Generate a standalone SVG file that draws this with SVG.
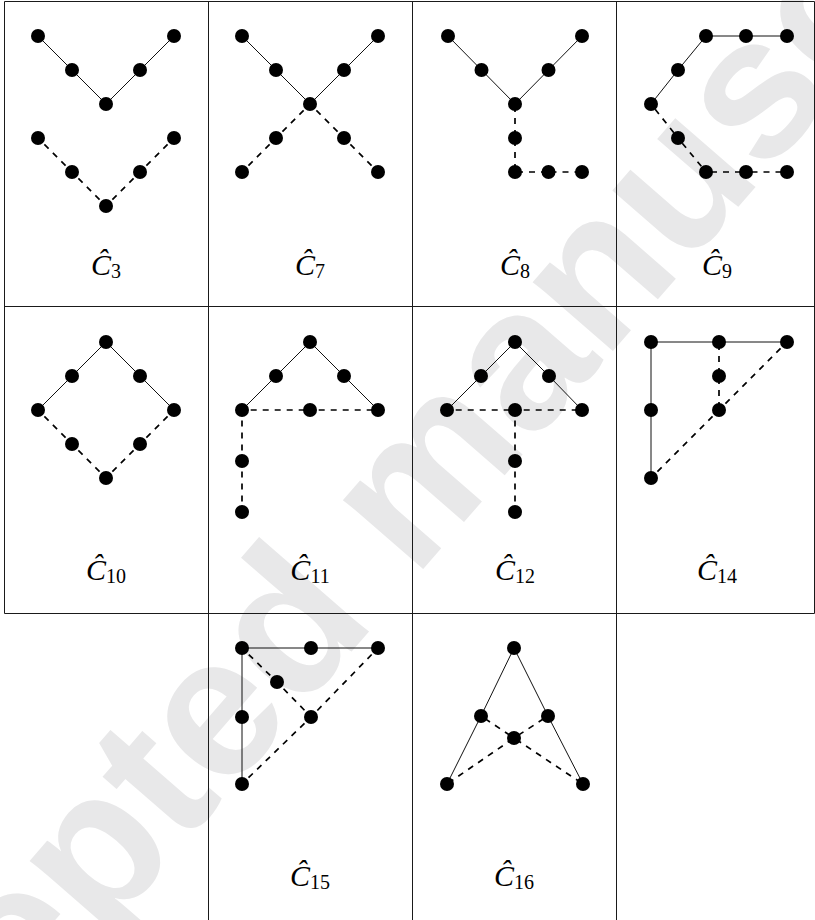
<svg xmlns="http://www.w3.org/2000/svg" width="815" height="920" viewBox="0 0 815 920">
<style>
.grid{stroke:#1a1a1a;stroke-width:1;fill:none}
.solid{stroke:#111;stroke-width:1;fill:none}
.dashed{stroke:#000;stroke-width:1.7;stroke-dasharray:6 6;fill:none}
.node circle{fill:#000}
.lbl{font-family:"Liberation Serif","DejaVu Serif",serif;font-style:italic;font-size:30px;fill:#000;text-anchor:middle}
.sub{font-style:normal;font-size:20px}
.wm{font-family:"Liberation Sans",Arial,sans-serif;font-weight:bold;font-size:200px;fill:#e8e8e9}
</style>
<rect width="815" height="920" fill="#fff"/>
<text class="wm" transform="translate(-213,1301) rotate(-49)">Accepted manuscript</text>
<g id="grid">
<line class="grid" x1="4.5" y1="1.5" x2="814.5" y2="1.5"/>
<line class="grid" x1="4.5" y1="306.5" x2="814.5" y2="306.5"/>
<line class="grid" x1="4.5" y1="613.5" x2="814.5" y2="613.5"/>
<line class="grid" x1="4.5" y1="1.5" x2="4.5" y2="613.5"/>
<line class="grid" x1="814.5" y1="1.5" x2="814.5" y2="613.5"/>
<line class="grid" x1="208.5" y1="1.5" x2="208.5" y2="920"/>
<line class="grid" x1="412.5" y1="1.5" x2="412.5" y2="920"/>
<line class="grid" x1="616.5" y1="1.5" x2="616.5" y2="920"/>
</g>
<g id="connectors">
<g id="e-C3">
<polyline class="solid" points="38,36 72,70 106,104 140,70 174,36"/>
<line class="dashed" stroke-dashoffset="3" x1="38" y1="138" x2="72" y2="172"/>
<line class="dashed" stroke-dashoffset="3" x1="72" y1="172" x2="106" y2="206"/>
<line class="dashed" stroke-dashoffset="3" x1="106" y1="206" x2="140" y2="172"/>
<line class="dashed" stroke-dashoffset="3" x1="140" y1="172" x2="174" y2="138"/>
</g>
<g id="e-C7">
<polyline class="solid" points="242,36 276,70 310,104 344,70 378,36"/>
<line class="dashed" stroke-dashoffset="3" x1="310" y1="104" x2="276" y2="138"/>
<line class="dashed" stroke-dashoffset="3" x1="276" y1="138" x2="242" y2="172"/>
<line class="dashed" stroke-dashoffset="3" x1="310" y1="104" x2="344" y2="138"/>
<line class="dashed" stroke-dashoffset="3" x1="344" y1="138" x2="378" y2="172"/>
</g>
<g id="e-C8">
<polyline class="solid" points="448,36 481.5,70 515,104 548.5,70 582,36"/>
<line class="dashed" stroke-dashoffset="10" x1="515" y1="104" x2="515" y2="138"/>
<line class="dashed" stroke-dashoffset="10" x1="515" y1="138" x2="515" y2="172"/>
<line class="dashed" stroke-dashoffset="10" x1="515" y1="172" x2="548.5" y2="172"/>
<line class="dashed" stroke-dashoffset="10" x1="548.5" y1="172" x2="582" y2="172"/>
</g>
<g id="e-C9">
<polyline class="solid" points="651,104 678,70 706,36 746,36 787,36"/>
<line class="dashed" stroke-dashoffset="5.3" x1="651" y1="104" x2="678" y2="138"/>
<line class="dashed" stroke-dashoffset="5.3" x1="678" y1="138" x2="706" y2="172"/>
<line class="dashed" stroke-dashoffset="7" x1="706" y1="172" x2="746" y2="172"/>
<line class="dashed" stroke-dashoffset="6.5" x1="746" y1="172" x2="787" y2="172"/>
</g>
<g id="e-C10">
<polyline class="solid" points="38,410 72,376 106,342 140,376 174,410"/>
<line class="dashed" stroke-dashoffset="3" x1="38" y1="410" x2="72" y2="444"/>
<line class="dashed" stroke-dashoffset="3" x1="72" y1="444" x2="106" y2="478"/>
<line class="dashed" stroke-dashoffset="3" x1="106" y1="478" x2="140" y2="444"/>
<line class="dashed" stroke-dashoffset="3" x1="140" y1="444" x2="174" y2="410"/>
</g>
<g id="e-C11">
<polyline class="solid" points="242,410 276,376 310,342 344,376 378,410"/>
<line class="dashed" stroke-dashoffset="3.3" x1="242" y1="410" x2="310" y2="410"/>
<line class="dashed" stroke-dashoffset="3.3" x1="310" y1="410" x2="378" y2="410"/>
<line class="dashed" stroke-dashoffset="1.5" x1="242" y1="410" x2="242" y2="461"/>
<line class="dashed" stroke-dashoffset="1.5" x1="242" y1="461" x2="242" y2="512"/>
</g>
<g id="e-C12">
<polyline class="solid" points="447,410 481,376 515,342 549,376 582,410"/>
<line class="dashed" stroke-dashoffset="3.3" x1="447" y1="410" x2="515" y2="410"/>
<line class="dashed" stroke-dashoffset="3.3" x1="515" y1="410" x2="582" y2="410"/>
<line class="dashed" stroke-dashoffset="1.5" x1="515" y1="410" x2="515" y2="461"/>
<line class="dashed" stroke-dashoffset="1.5" x1="515" y1="461" x2="515" y2="512"/>
</g>
<g id="e-C14">
<polyline class="solid" points="787,342 719,342 651,342 651,410 651,478"/>
<line class="dashed" stroke-dashoffset="10" x1="719" y1="342" x2="719" y2="376"/>
<line class="dashed" stroke-dashoffset="10" x1="719" y1="376" x2="719" y2="410"/>
<line class="dashed" stroke-dashoffset="2.9" x1="787" y1="342" x2="719" y2="410"/>
<line class="dashed" stroke-dashoffset="2.9" x1="719" y1="410" x2="651" y2="478"/>
</g>
<g id="e-C15">
<polyline class="solid" points="378,648 311,648 242,648 242,717 242,784"/>
<line class="dashed" stroke-dashoffset="2.6" x1="242" y1="648" x2="277" y2="682"/>
<line class="dashed" stroke-dashoffset="2.6" x1="277" y1="682" x2="311" y2="717"/>
<line class="dashed" stroke-dashoffset="2.9" x1="378" y1="648" x2="311" y2="717"/>
<line class="dashed" stroke-dashoffset="2.9" x1="311" y1="717" x2="242" y2="784"/>
</g>
<g id="e-C16">
<polyline class="solid" points="447,784 481,716 514,648 548,716 583,784"/>
<line class="dashed" stroke-dashoffset="7.2" x1="481" y1="716" x2="514" y2="738"/>
<line class="dashed" stroke-dashoffset="9.5" x1="514" y1="738" x2="583" y2="784"/>
<line class="dashed" stroke-dashoffset="6.8" x1="548" y1="716" x2="514" y2="738"/>
<line class="dashed" stroke-dashoffset="10.4" x1="514" y1="738" x2="447" y2="784"/>
</g>
</g>
<g id="C3">
<g class="node" id="C3-1"><circle cx="38" cy="36" r="7"/></g>
<g class="node" id="C3-2"><circle cx="72" cy="70" r="7"/></g>
<g class="node" id="C3-3"><circle cx="106" cy="104" r="7"/></g>
<g class="node" id="C3-4"><circle cx="140" cy="70" r="7"/></g>
<g class="node" id="C3-5"><circle cx="174" cy="36" r="7"/></g>
<g class="node" id="C3-6"><circle cx="38" cy="138" r="7"/></g>
<g class="node" id="C3-7"><circle cx="72" cy="172" r="7"/></g>
<g class="node" id="C3-8"><circle cx="106" cy="206" r="7"/></g>
<g class="node" id="C3-9"><circle cx="140" cy="172" r="7"/></g>
<g class="node" id="C3-10"><circle cx="174" cy="138" r="7"/></g>
<text class="lbl" x="106" y="275">Ĉ<tspan class="sub" dy="3">3</tspan></text>
</g>
<g id="C7">
<g class="node" id="C7-1"><circle cx="242" cy="36" r="7"/></g>
<g class="node" id="C7-2"><circle cx="276" cy="70" r="7"/></g>
<g class="node" id="C7-3"><circle cx="310" cy="104" r="7"/></g>
<g class="node" id="C7-4"><circle cx="344" cy="70" r="7"/></g>
<g class="node" id="C7-5"><circle cx="378" cy="36" r="7"/></g>
<g class="node" id="C7-6"><circle cx="276" cy="138" r="7"/></g>
<g class="node" id="C7-7"><circle cx="242" cy="172" r="7"/></g>
<g class="node" id="C7-8"><circle cx="344" cy="138" r="7"/></g>
<g class="node" id="C7-9"><circle cx="378" cy="172" r="7"/></g>
<text class="lbl" x="310" y="275">Ĉ<tspan class="sub" dy="3">7</tspan></text>
</g>
<g id="C8">
<g class="node" id="C8-1"><circle cx="448" cy="36" r="7"/></g>
<g class="node" id="C8-2"><circle cx="481.5" cy="70" r="7"/></g>
<g class="node" id="C8-3"><circle cx="515" cy="104" r="7"/></g>
<g class="node" id="C8-4"><circle cx="548.5" cy="70" r="7"/></g>
<g class="node" id="C8-5"><circle cx="582" cy="36" r="7"/></g>
<g class="node" id="C8-6"><circle cx="515" cy="138" r="7"/></g>
<g class="node" id="C8-7"><circle cx="515" cy="172" r="7"/></g>
<g class="node" id="C8-8"><circle cx="548.5" cy="172" r="7"/></g>
<g class="node" id="C8-9"><circle cx="582" cy="172" r="7"/></g>
<text class="lbl" x="515" y="275">Ĉ<tspan class="sub" dy="3">8</tspan></text>
</g>
<g id="C9">
<g class="node" id="C9-1"><circle cx="651" cy="104" r="7"/></g>
<g class="node" id="C9-2"><circle cx="678" cy="70" r="7"/></g>
<g class="node" id="C9-3"><circle cx="706" cy="36" r="7"/></g>
<g class="node" id="C9-4"><circle cx="746" cy="36" r="7"/></g>
<g class="node" id="C9-5"><circle cx="787" cy="36" r="7"/></g>
<g class="node" id="C9-6"><circle cx="678" cy="138" r="7"/></g>
<g class="node" id="C9-7"><circle cx="706" cy="172" r="7"/></g>
<g class="node" id="C9-8"><circle cx="746" cy="172" r="7"/></g>
<g class="node" id="C9-9"><circle cx="787" cy="172" r="7"/></g>
<text class="lbl" x="717" y="275">Ĉ<tspan class="sub" dy="3">9</tspan></text>
</g>
<g id="C10">
<g class="node" id="C10-1"><circle cx="106" cy="342" r="7"/></g>
<g class="node" id="C10-2"><circle cx="72" cy="376" r="7"/></g>
<g class="node" id="C10-3"><circle cx="140" cy="376" r="7"/></g>
<g class="node" id="C10-4"><circle cx="38" cy="410" r="7"/></g>
<g class="node" id="C10-5"><circle cx="174" cy="410" r="7"/></g>
<g class="node" id="C10-6"><circle cx="72" cy="444" r="7"/></g>
<g class="node" id="C10-7"><circle cx="140" cy="444" r="7"/></g>
<g class="node" id="C10-8"><circle cx="106" cy="478" r="7"/></g>
<text class="lbl" x="106" y="580">Ĉ<tspan class="sub" dy="3">10</tspan></text>
</g>
<g id="C11">
<g class="node" id="C11-1"><circle cx="310" cy="342" r="7"/></g>
<g class="node" id="C11-2"><circle cx="276" cy="376" r="7"/></g>
<g class="node" id="C11-3"><circle cx="344" cy="376" r="7"/></g>
<g class="node" id="C11-4"><circle cx="242" cy="410" r="7"/></g>
<g class="node" id="C11-5"><circle cx="310" cy="410" r="7"/></g>
<g class="node" id="C11-6"><circle cx="378" cy="410" r="7"/></g>
<g class="node" id="C11-7"><circle cx="242" cy="461" r="7"/></g>
<g class="node" id="C11-8"><circle cx="242" cy="512" r="7"/></g>
<text class="lbl" x="310" y="580">Ĉ<tspan class="sub" dy="3">11</tspan></text>
</g>
<g id="C12">
<g class="node" id="C12-1"><circle cx="515" cy="342" r="7"/></g>
<g class="node" id="C12-2"><circle cx="481" cy="376" r="7"/></g>
<g class="node" id="C12-3"><circle cx="549" cy="376" r="7"/></g>
<g class="node" id="C12-4"><circle cx="447" cy="410" r="7"/></g>
<g class="node" id="C12-5"><circle cx="515" cy="410" r="7"/></g>
<g class="node" id="C12-6"><circle cx="582" cy="410" r="7"/></g>
<g class="node" id="C12-7"><circle cx="515" cy="461" r="7"/></g>
<g class="node" id="C12-8"><circle cx="515" cy="512" r="7"/></g>
<text class="lbl" x="515" y="580">Ĉ<tspan class="sub" dy="3">12</tspan></text>
</g>
<g id="C14">
<g class="node" id="C14-1"><circle cx="651" cy="342" r="7"/></g>
<g class="node" id="C14-2"><circle cx="719" cy="342" r="7"/></g>
<g class="node" id="C14-3"><circle cx="787" cy="342" r="7"/></g>
<g class="node" id="C14-4"><circle cx="719" cy="376" r="7"/></g>
<g class="node" id="C14-5"><circle cx="651" cy="410" r="7"/></g>
<g class="node" id="C14-6"><circle cx="719" cy="410" r="7"/></g>
<g class="node" id="C14-7"><circle cx="651" cy="478" r="7"/></g>
<text class="lbl" x="717" y="580">Ĉ<tspan class="sub" dy="3">14</tspan></text>
</g>
<g id="C15">
<g class="node" id="C15-1"><circle cx="242" cy="648" r="7"/></g>
<g class="node" id="C15-2"><circle cx="311" cy="648" r="7"/></g>
<g class="node" id="C15-3"><circle cx="378" cy="648" r="7"/></g>
<g class="node" id="C15-4"><circle cx="277" cy="682" r="7"/></g>
<g class="node" id="C15-5"><circle cx="242" cy="717" r="7"/></g>
<g class="node" id="C15-6"><circle cx="311" cy="717" r="7"/></g>
<g class="node" id="C15-7"><circle cx="242" cy="784" r="7"/></g>
<text class="lbl" x="310" y="886">Ĉ<tspan class="sub" dy="3">15</tspan></text>
</g>
<g id="C16">
<g class="node" id="C16-1"><circle cx="514" cy="648" r="7"/></g>
<g class="node" id="C16-2"><circle cx="481" cy="716" r="7"/></g>
<g class="node" id="C16-3"><circle cx="548" cy="716" r="7"/></g>
<g class="node" id="C16-4"><circle cx="514" cy="738" r="7"/></g>
<g class="node" id="C16-5"><circle cx="447" cy="784" r="7"/></g>
<g class="node" id="C16-6"><circle cx="583" cy="784" r="7"/></g>
<text class="lbl" x="514" y="886">Ĉ<tspan class="sub" dy="3">16</tspan></text>
</g>
</svg>
